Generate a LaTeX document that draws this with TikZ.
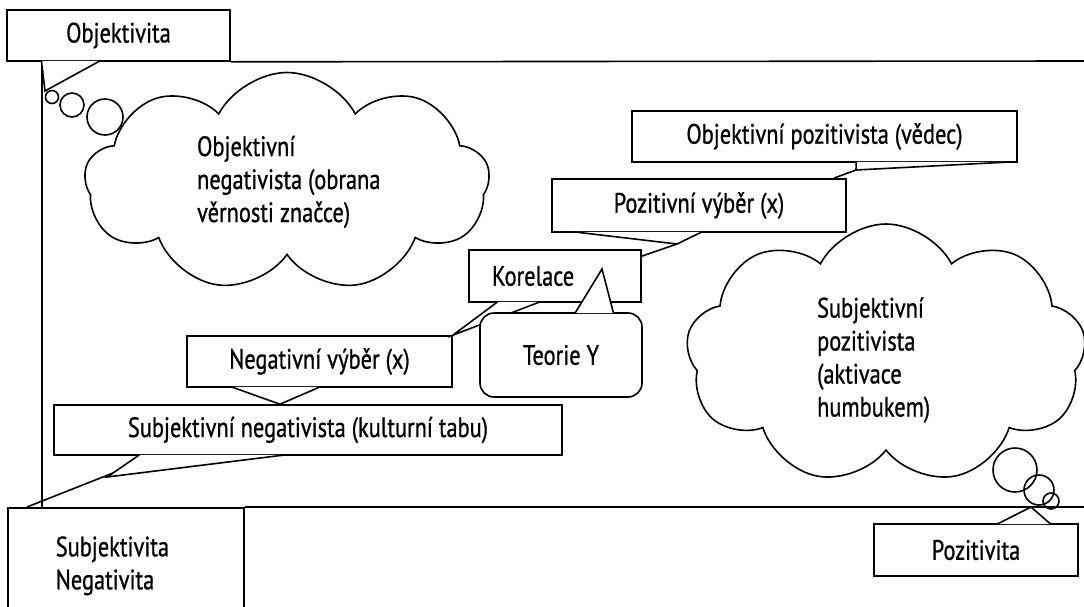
\documentclass[tikz,border=0pt]{standalone}
\usepackage{fontspec}
\setmainfont{PT Sans}[FakeStretch=0.8, FakeBold=0.8]
\usetikzlibrary{shapes.symbols, calc}

\begin{document}
\begin{tikzpicture}[x=1pt, y=-1pt, line width=1.6pt, font=\fontsize{28}{33}\selectfont,
        box/.style={draw, fill=white, rectangle, inner sep=0pt},
        ptr/.style={draw, fill=white},
        puff/.style={draw, fill=white, cloud, cloud puffs=9, cloud puff arc=125, cloud ignores aspect, inner sep=0pt},
        bubble/.style={draw, circle, inner sep=0pt}]
        \useasboundingbox (0, 0) rectangle (1084, 606);

        \coordinate (orig) at (42, 507);
        \coordinate (topend) at (1084, 61);
        \coordinate (xend) at (1084, 507);
        \coordinate (obtip) at (45, 91);
        \coordinate (opk) at (856, 170);
        \coordinate (pvk) at (677, 244);
        \coordinate (tytip) at (602, 269);
        \coordinate (snk1) at (113, 473);
        \coordinate (snk2) at (107, 477);
        \coordinate (sntip) at (27, 507);
        \coordinate (poztip) at (1031, 507);

        \node (ob) at (118.5, 35.5) [box, minimum width=223pt, minimum height=51pt] {Objektivita};
        \draw (ob.south east) -- (topend);
        \draw (orig |- ob.south) -- (orig);

        \node (cn) at (287, 182) [puff, minimum width=405pt, minimum height=219pt] {};
        \node (cntext) at (193, 182) [anchor=west, align=left] {Objektivní\\negativista (obrana\\věrnosti značce)};
        \node (cnb1) at (105, 117) [bubble, minimum size=36pt] {};
        \node (cnb2) at (72, 105) [bubble, minimum size=24pt] {};
        \node (cnb3) at (52, 97) [bubble, minimum size=13pt] {};

        \node (cp) at (886, 354) [puff, minimum width=400pt, minimum height=260pt] {};
        \node (cptext) at (813, 360) [anchor=west, align=left] {Subjektivní\\pozitivista\\(aktivace\\humbukem)};
        \node (cpb1) at (1015, 470) [bubble, minimum size=44pt] {};
        \node (cpb2) at (1039, 490) [bubble, minimum size=30pt] {};
        \node (cpb3) at (1051, 501) [bubble, minimum size=16pt] {};

        \draw[ptr] ($(ob.south west)!.157!(ob.south east) + (0, -0.9)$) -- (obtip) -- ($(ob.south west)!.417!(ob.south east) + (0, -0.9)$);

        \node (op) at (824.5, 136.5) [box, minimum width=385pt, minimum height=51pt] {Objektivní pozitivista (vědec)};
        \node (pv) at (699, 205.5) [box, minimum width=294pt, minimum height=53pt] {Pozitivní výběr (x)};
        \draw[ptr] ($(op.south west)!.582!(op.south east) + (0, -0.9)$) -- (opk) -- ($(op.south west)!.982!(op.south east) + (0, -0.9)$);
        \draw (opk) -- ($(pv.north west)!.956!(pv.north east)$);

        \node (kor) at (555, 276) [box, minimum width=172pt, minimum height=52pt, inner xsep=23pt, text width=126pt, align=left] {Korelace};
        \draw[ptr] ($(pv.south west)!.078!(pv.south east) + (0, -0.9)$) -- (pvk) -- ($(pv.south west)!.51!(pv.south east) + (0, -0.9)$);
        \draw (pvk) -- ($(kor.north east)!.13!(kor.south east)$);

        \node (nv) at (319.5, 361.5) [box, minimum width=265pt, minimum height=51pt] {Negativní výběr (x)};
        \draw[ptr] ($(kor.south west)!.169!(kor.south east) + (0, -0.9)$) -- (nv.north east) -- ($(kor.south west)!.413!(kor.south east) + (0, -0.9)$);

        \node (ty) at (561, 355) [box, rounded corners=14pt, minimum width=162pt, minimum height=84pt] {Teorie Y};
        \draw[ptr] ($(ty.north west)!.586!(ty.north east) + (0, 0.9)$) -- (tytip) -- ($(ty.north west)!.821!(ty.north east) + (0, 0.9)$);

        \node (snk) at (308, 430) [box, minimum width=508pt, minimum height=50pt] {Subjektivní negativista (kulturní tabu)};
        \draw[ptr] ($(nv.south west)!.17!(nv.south east) + (0, -0.9)$) -- ($(snk.north west)!.445!(snk.north east)$) -- ($(nv.south west)!.502!(nv.south east) + (0, -0.9)$);
        \draw[ptr] ($(snk.south west)!.169!(snk.south east) + (0, -0.9)$) -- (snk1) -- (snk2) -- ($(snk.south west)!.455!(snk.south east) + (0, -0.9)$);
        \draw (snk1) -- (sntip);

        \node (sub) at (7, 507) [box, anchor=north west, minimum height=116pt, inner xsep=48pt, text width=140pt, align=left] {Subjektivita\\Negativita};
        \draw (sub.north east) -- (xend);

        \node (poz) at (976, 550) [box, minimum width=204pt, minimum height=52pt] {Pozitivita};
        \draw[ptr] ($(poz.north west)!.603!(poz.north east) + (0, 0.9)$) -- (poztip) -- ($(poz.north west)!.863!(poz.north east) + (0, 0.9)$);
\end{tikzpicture}
\end{document}
